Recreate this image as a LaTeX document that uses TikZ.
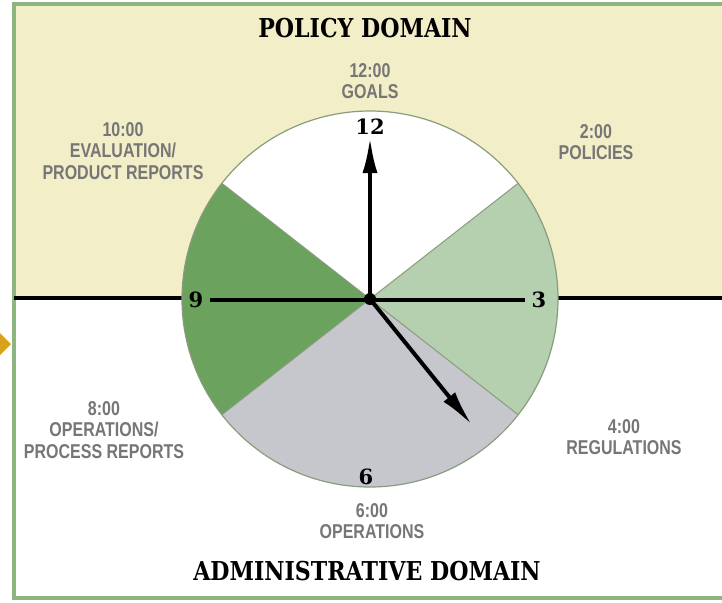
\documentclass[tikz,border=0pt]{standalone}
\usepackage{fontspec}
\usepackage{xcolor}
\usetikzlibrary{arrows.meta}
\setmainfont{Liberation Sans}
\newfontfamily\slabfont[FakeStretch=0.85]{DejaVu Serif}
\newfontfamily\dialfont{DejaVu Serif}
\newfontfamily\narrowfont[FakeStretch=0.8]{Liberation Sans}
\definecolor{policybg}{HTML}{F2EEC8}
\definecolor{framegreen}{HTML}{8DB580}
\definecolor{darksector}{HTML}{6AA25E}
\definecolor{lightsector}{HTML}{B5D0AE}
\definecolor{graysector}{HTML}{C6C7CD}
\definecolor{rimline}{HTML}{8A9C7E}
\definecolor{labelgray}{HTML}{767676}
\definecolor{pointer}{HTML}{D9A21B}
\tikzset{
	domaintitle/.style={font=\slabfont\bfseries\fontsize{13}{15}\selectfont},
	dialnum/.style={font=\dialfont\bfseries\fontsize{10.5}{12}\selectfont},
	timelabel/.style={font=\narrowfont\bfseries\fontsize{10}{10.7}\selectfont, text=labelgray, align=center, inner sep=0pt},
	hand/.style={line width=2pt, -{Latex[length=18pt,width=7.5pt]}}
}

\begin{document}
\begin{tikzpicture}[x=0.5pt,y=0.5pt]
		\useasboundingbox (0,0) rectangle (722,-602);
		\fill [white] (0,0) rectangle (722,-602);
		\fill [policybg] (14,-4) rectangle (722,-298);
		\draw [framegreen, line width=1.6pt] (14,-4) rectangle (740,-598);
		\fill [pointer] (0,-333) -- (11,-344) -- (0,-355) -- cycle;
		\draw [line width=2pt] (14,-298) -- (722,-298);
		%
		\coordinate (c) at (370,-299);
		\foreach \a/\b/\col in {38/142/white,142/218/darksector,218/322/graysector,-38/38/lightsector}
			\fill [\col] (c) -- ++(\a:188) arc (\a:\b:188) -- cycle;
		\foreach \a in {38,142,218,322}
			\draw [rimline, line width=0.5pt] (c) -- ++(\a:188);
		\draw [rimline, line width=0.6pt] (c) circle (188);
		%
		\node [dialnum] (n12) at (370,-127) {12};
		\node [dialnum] (n3) at (539,-300) {3};
		\node [dialnum] (n6) at (366,-477) {6};
		\node [dialnum] (n9) at (196,-300) {9};
		\draw [line width=2pt] (n9.east) -- (n3.west);
		\coordinate (mtip) at (370,-137);
		\coordinate (htip) at (472,-425);
		\draw [hand] (c) -- (mtip);
		\draw [hand] (c) -- (htip);
		\fill [black] (c) circle (6);
		%
		\node [domaintitle] (policy) at (365,-28) {POLICY DOMAIN};
		\node [domaintitle] (admin) at (367,-571) {ADMINISTRATIVE DOMAIN};
		\node [timelabel] (goals) at (370,-81) {12:00\\GOALS};
		\node [timelabel] (evaluation) at (123,-151) {10:00\\EVALUATION/\\PRODUCT REPORTS};
		\node [timelabel] (policies) at (596,-142) {2:00\\POLICIES};
		\node [timelabel] (process) at (104,-430) {8:00\\OPERATIONS/\\PROCESS REPORTS};
		\node [timelabel] (regulations) at (624,-437) {4:00\\REGULATIONS};
		\node [timelabel] (operations) at (372,-521) {6:00\\OPERATIONS};
	\end{tikzpicture}
\end{document}
